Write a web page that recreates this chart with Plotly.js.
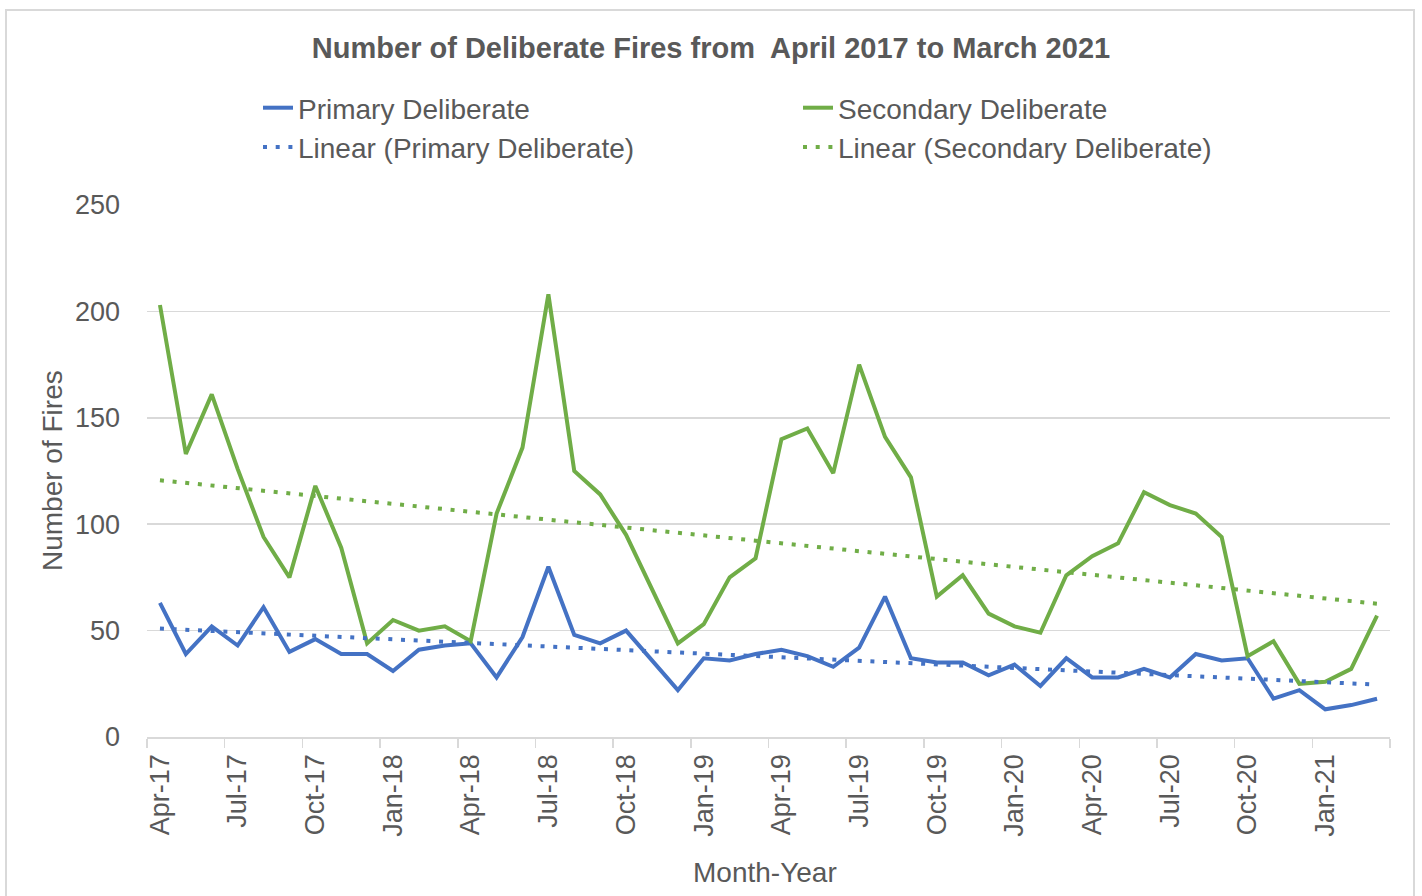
<!DOCTYPE html>
<html>
<head>
<meta charset="utf-8">
<script src="https://cdn.plot.ly/plotly-3.0.1.min.js"></script>
<style>
  html, body { margin: 0; padding: 0; background: #ffffff; }
  #wrap { position: relative; width: 1422px; height: 896px; overflow: hidden; }
  #chart { position: absolute; left: 0; top: 0; width: 1422px; height: 896px; }
  #frame { position: absolute; left: 5px; top: 9px; width: 1410px; height: 900px;
           border: 2px solid #d9d9d9; box-sizing: border-box; pointer-events: none; }
</style>
</head>
<body>
<div id="wrap">
  <div id="chart"></div>
  <div id="frame"></div>
</div>
<script>
// ---- Data ----
const months = [
  "Apr-17","May-17","Jun-17","Jul-17","Aug-17","Sep-17","Oct-17","Nov-17","Dec-17",
  "Jan-18","Feb-18","Mar-18","Apr-18","May-18","Jun-18","Jul-18","Aug-18","Sep-18",
  "Oct-18","Nov-18","Dec-18","Jan-19","Feb-19","Mar-19","Apr-19","May-19","Jun-19",
  "Jul-19","Aug-19","Sep-19","Oct-19","Nov-19","Dec-19","Jan-20","Feb-20","Mar-20",
  "Apr-20","May-20","Jun-20","Jul-20","Aug-20","Sep-20","Oct-20","Nov-20","Dec-20",
  "Jan-21","Feb-21","Mar-21"
];
const primaryDeliberate = [
  63,39,52,43,61,40,46,39,39,31,41,43,44,28,47,80,48,44,50,36,
  22,37,36,39,41,38,33,42,66,37,35,35,29,34,24,37,28,28,32,28,
  39,36,37,18,22,13,15,18
];
const secondaryDeliberate = [
  203,133,161,126,94,75,118,89,44,55,50,52,45,105,136,208,125,114,95,69,
  44,53,75,84,140,145,124,175,141,122,66,76,58,52,49,76,85,91,115,109,
  105,94,38,45,25,26,32,57
];
const seriesNames = ["Primary Deliberate", "Secondary Deliberate",
                     "Linear (Primary Deliberate)", "Linear (Secondary Deliberate)"];
const titleText = "Number of Deliberate Fires from  April 2017 to March 2021";
const xTitle = "Month-Year";
const yTitle = "Number of Fires";

// Least-squares linear trendline (as Excel's "Linear" trendline)
function linearTrend(vals) {
  const n = vals.length;
  let sx = 0, sy = 0, sxx = 0, sxy = 0;
  for (let i = 0; i < n; i++) {
    const x = i + 1;
    sx += x; sy += vals[i]; sxx += x * x; sxy += x * vals[i];
  }
  const b = (n * sxy - sx * sy) / (n * sxx - sx * sx);
  const a = (sy - b * sx) / n;
  return vals.map((_, i) => a + b * (i + 1));
}

const BLUE = "#4472C4", GREEN = "#70AD47", TXT = "#595959", GRID = "#d9d9d9";
const FONT = "Liberation Sans, Arial, sans-serif";

const traces = [
  { x: months, y: primaryDeliberate, name: seriesNames[0], type: "scatter", mode: "lines",
    line: { color: BLUE, width: 4 }, legend: "legend", legendgroup: "a" },
  { x: months, y: secondaryDeliberate, name: seriesNames[1], type: "scatter", mode: "lines",
    line: { color: GREEN, width: 4 }, legend: "legend2", legendgroup: "c" },
  { x: months, y: linearTrend(primaryDeliberate), name: seriesNames[2], type: "scatter", mode: "lines",
    line: { color: BLUE, width: 4, dash: "4px,8.7px" }, legend: "legend", legendgroup: "b" },
  { x: months, y: linearTrend(secondaryDeliberate), name: seriesNames[3], type: "scatter", mode: "lines",
    line: { color: GREEN, width: 4, dash: "4px,8.7px" }, legend: "legend2", legendgroup: "d" }
];

const legendCommon = {
  orientation: "v", xref: "container", yref: "container",
  xanchor: "left", yanchor: "top", y: 1 - 83 / 896,
  font: { family: FONT, size: 28, color: TXT },
  bgcolor: "rgba(0,0,0,0)", tracegroupgap: 0, traceorder: "grouped"
};

const layout = {
  width: 1422, height: 896,
  margin: { l: 147, r: 32, t: 205, b: 159, autoexpand: false },
  paper_bgcolor: "#ffffff", plot_bgcolor: "#ffffff",
  font: { family: FONT, size: 27, color: TXT },
  title: {
    text: "<b>" + titleText + "</b>",
    font: { family: FONT, size: 29, color: TXT },
    xref: "container", x: 0.5, xanchor: "center",
    yref: "container", y: 1 - 48 / 896, yanchor: "middle"
  },
  showlegend: true,
  legend: Object.assign({}, legendCommon, { x: 258 / 1422 }),
  legend2: Object.assign({}, legendCommon, { x: 798 / 1422 }),
  xaxis: {
    type: "category",
    range: [-0.5, months.length - 0.5],
    tickmode: "linear", tick0: 0, dtick: 3,
    tickson: "boundaries",
    ticks: "outside", ticklen: 9, tickwidth: 1.5, tickcolor: GRID,
    showline: true, linecolor: GRID, linewidth: 1.5,
    showgrid: false, zeroline: false,
    tickangle: -90,
    ticklabelstandoff: 5,
    tickfont: { family: FONT, size: 27, color: TXT },
    fixedrange: true
  },
  yaxis: {
    range: [0, 250], tickmode: "linear", tick0: 0, dtick: 50,
    showgrid: true, gridcolor: GRID, gridwidth: 1.5,
    zeroline: false, showline: false, ticks: "",
    ticklabelstandoff: 26,
    tickfont: { family: FONT, size: 27, color: TXT },
    fixedrange: true
  },
  annotations: [
    { text: yTitle, xref: "paper", yref: "paper", x: (52 - 147) / 1243, y: 0.5,
      xanchor: "center", yanchor: "middle", textangle: -90, showarrow: false,
      font: { family: FONT, size: 28, color: TXT } },
    { text: xTitle, xref: "paper", yref: "paper", x: (765 - 147) / 1243, y: (737 - 872) / 532,
      xanchor: "center", yanchor: "middle", showarrow: false,
      font: { family: FONT, size: 28, color: TXT } }
  ]
};

Plotly.newPlot("chart", traces, layout, { displayModeBar: false, staticPlot: true });
</script>
</body>
</html>
